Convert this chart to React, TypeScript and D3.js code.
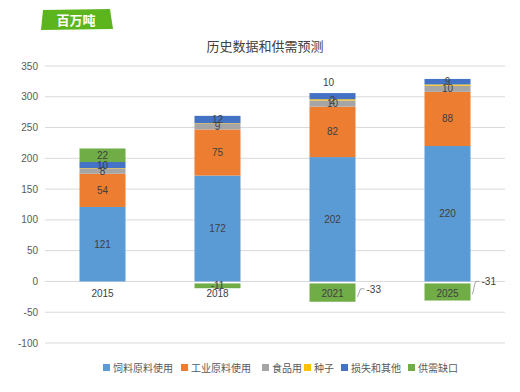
import * as d3 from "d3";

const years = ["2015", "2018", "2021", "2025"];
const seriesNames = ["饲料原料使用", "工业原料使用", "食品用", "种子", "损失和其他", "供需缺口"];
const feed = [121, 172, 202, 220];
const industrial = [54, 75, 82, 88];
const food = [8, 9, 10, 10];
const seed = [1, 1, 2, 2];
const loss = [10, 12, 10, 9];
const gap = [22, -11, -33, -31];
const yTicks = [-100, -50, 0, 50, 100, 150, 200, 250, 300, 350];
const colors = ["#5B9BD5", "#ED7D31", "#A5A5A5", "#FFC000", "#4472C4", "#70AD47"];

const W = 520;
const H = 392;
const font = "'Liberation Sans', 'Noto Sans CJK SC', sans-serif";

export default function App() {
  const x = d3.scaleBand().domain(years).range([45, 505]).paddingInner(0.6).paddingOuter(0.3);
  const y = d3.scaleLinear().domain([-100, 350]).range([343, 66]);

  const series = [feed, industrial, food, seed, loss, gap];
  const rows = years.map((yr, i) => {
    const o: any = { year: yr };
    series.forEach((s, k) => (o["s" + k] = Math.max(0, s[i])));
    return o;
  });
  const stack = d3.stack<any>().keys(["s0", "s1", "s2", "s3", "s4", "s5"])(rows);

  const bw = x.bandwidth();
  const legendX = [103, 181, 262, 304, 341, 408];

  return (
    <svg width={W} height={H} style={{ position: "absolute", left: 0, top: 0, fontFamily: font }}>
      <rect width={W} height={H} fill="#fff" />
      {/* unit tag */}
      <path d="M43,10 L110,9 L113,29 L41,30 Z" fill="#5DB51E" />
      <text x={76} y={25} textAnchor="middle" fill="#fff" fontSize={13} fontWeight="bold" fontFamily="'Noto Sans CJK SC'">
        百万吨
      </text>
      <text x={265} y={51} textAnchor="middle" fill="#404040" fontSize={13} fontFamily="'Noto Sans CJK SC'">
        历史数据和供需预测
      </text>
      {yTicks.map((t) => (
        <g key={t}>
          <line x1={45} x2={505} y1={y(t)} y2={y(t)} stroke="#D9D9D9" strokeWidth={1} />
          <text x={38} y={y(t) + 3.5} textAnchor="end" fontSize={10} fill="#595959">
            {t}
          </text>
        </g>
      ))}
      {stack.map((layer, k) =>
        layer.map((d, i) => {
          if (d[1] - d[0] <= 0) return null;
          return (
            <rect key={k + "-" + i} x={x(years[i])!} width={bw} y={y(d[1])} height={y(d[0]) - y(d[1])} fill={colors[k]} />
          );
        })
      )}
      {/* negative gaps */}
      {gap.map((v, i) =>
        v < 0 ? <rect key={"neg" + i} x={x(years[i])!} width={bw} y={y(0) + 2} height={y(v) - y(0) - 2} fill={colors[5]} /> : null
      )}
      {/* segment labels */}
      {stack.map((layer, k) =>
        layer.map((d, i) => {
          if (k === 3) return null;
          const v = series[k][i];
          if (v <= 0) return null;
          let ly = (y(d[0]) + y(d[1])) / 2 + 3.5;
          let lx = x(years[i])! + bw / 2;
          if (k === 4 && i === 2) {
            ly = y(d[1]) - 7;
            lx -= 4;
          }
          return (
            <text key={"l" + k + "-" + i} x={lx} y={ly} textAnchor="middle" fontSize={10} fill="#404040">
              {v}
            </text>
          );
        })
      )}
      <text x={x("2021")! + bw / 2} y={y(stack[3][2][1]) + 5} textAnchor="middle" fontSize={10} fill="#404040">
        2
      </text>
      {/* gap negative labels */}
      <text x={x("2018")! + bw / 2} y={y(-11 / 2) + 4} textAnchor="middle" fontSize={10} fill="#404040">
        -11
      </text>
      {[2, 3].map((i) => {
        const bx = x(years[i])! + bw;
        const yy = i === 2 ? y(-12) : y(0);
        const by = i === 2 ? y(-25) : y(-21);
        return (
          <g key={"lead" + i}>
            <polyline points={`${bx + 2},${by} ${bx + 5},${yy} ${bx + 9},${yy}`} fill="none" stroke="#A6A6A6" strokeWidth={1} />
            <text x={bx + 11} y={yy + 4} fontSize={10} fill="#404040">
              {gap[i]}
            </text>
          </g>
        );
      })}
      {/* category labels */}
      {years.map((yr) => (
        <text key={yr} x={x(yr)! + bw / 2} y={y(0) + 16} textAnchor="middle" fontSize={10} fill="#404040">
          {yr}
        </text>
      ))}
      {/* legend */}
      {seriesNames.map((n, k) => (
        <g key={n}>
          <rect x={legendX[k]} y={364} width={7} height={7} fill={colors[k]} />
          <text x={legendX[k] + 10} y={371.5} fontSize={10} fill="#595959" fontFamily="'Noto Sans CJK SC'">
            {n}
          </text>
        </g>
      ))}
    </svg>
  );
}
